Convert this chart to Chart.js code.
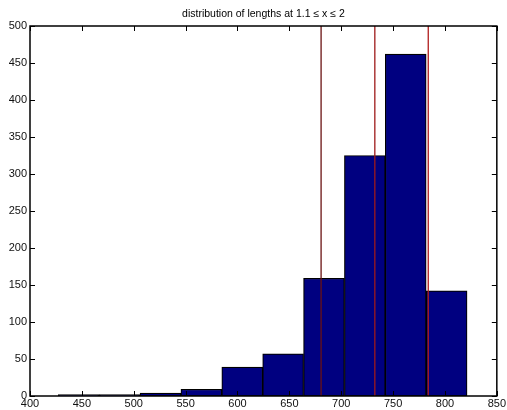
<!DOCTYPE html>
<html>
<head>
<meta charset="utf-8">
<script src="https://cdn.jsdelivr.net/npm/chart.js@4/dist/chart.umd.min.js"></script>
<style>
  html, body { margin: 0; padding: 0; background: #fff; }
</style>
</head>
<body>
<canvas id="hist" width="507" height="410"></canvas>
<script>
// histogram bins (centres, equal width) and counts
const binCenters = [447.0, 486.4, 525.8, 565.2, 604.6, 644.0, 683.4, 722.8, 762.2, 801.6];
const counts = [2, 2, 4, 9, 39, 57, 159, 325, 462, 142];

// vertical marker lines
const markerX = [680.6, 732.4, 783.9];
const markerColors = ['#6a1212', '#9e1a1a', '#b01c1c'];

const xTicks = [400, 450, 500, 550, 600, 650, 700, 750, 800, 850];
const yTicks = [0, 50, 100, 150, 200, 250, 300, 350, 400, 450, 500];
const titleText = 'distribution of lengths at 1.1 \u2264 x \u2264 2';

const FONT = 'Liberation Sans, Arial, Helvetica, sans-serif';

// box around the axes, inward ticks on all four sides, title over the axes
const boxAxes = {
    id: 'boxAxes',
    afterDatasetsDraw(chart) {
        const { ctx, chartArea: a, scales } = chart;
        const len = 5;
        ctx.save();
        ctx.strokeStyle = '#000';
        ctx.lineWidth = 1;
        ctx.beginPath();
        xTicks.forEach(v => {
            const px = Math.round(scales.x.getPixelForValue(v)) + 0.5;
            ctx.moveTo(px, a.bottom); ctx.lineTo(px, a.bottom - len);
            ctx.moveTo(px, a.top); ctx.lineTo(px, a.top + len);
        });
        yTicks.forEach(v => {
            const py = Math.round(scales.y.getPixelForValue(v)) + 0.5;
            ctx.moveTo(a.left, py); ctx.lineTo(a.left + len, py);
            ctx.moveTo(a.right, py); ctx.lineTo(a.right - len, py);
        });
        ctx.stroke();
        ctx.lineWidth = 1.5;
        ctx.strokeRect(a.left, a.top, a.right - a.left, a.bottom - a.top);

        ctx.fillStyle = '#000';
        ctx.font = '10.5px ' + FONT;
        ctx.textAlign = 'center';
        ctx.textBaseline = 'middle';
        ctx.fillText(titleText, (a.left + a.right) / 2, 14);
        ctx.restore();
    }
};

const markerSets = markerX.map((x, i) => ({
    type: 'line',
    data: [{ x: x, y: 0 }, { x: x, y: 500 }],
    borderColor: markerColors[i],
    borderWidth: 1.3,
    pointRadius: 0,
    order: 0
}));

new Chart(document.getElementById('hist'), {
    type: 'bar',
    data: {
        datasets: [{
            data: binCenters.map((c, i) => ({ x: c, y: counts[i] })),
            backgroundColor: '#000080',
            borderColor: '#000',
            borderWidth: 1.2,
            borderSkipped: false,
            barPercentage: 1,
            categoryPercentage: 1,
            grouped: false,
            order: 1
        }, ...markerSets]
    },
    options: {
        responsive: false,
        animation: false,
        devicePixelRatio: 1,
        layout: { padding: { top: 26, right: 9, left: 0, bottom: 0 } },
        plugins: { legend: { display: false }, tooltip: { enabled: false }, title: { display: false } },
        scales: {
            x: {
                type: 'linear', min: 400, max: 850, offset: false,
                grid: { display: false, drawTicks: false, offset: false },
                border: { display: false },
                ticks: { stepSize: 50, padding: 1, color: '#111', font: { size: 11, family: FONT }, maxRotation: 0 },
                afterFit: s => { s.height = 14; }
            },
            y: {
                min: 0, max: 500,
                grid: { display: false, drawTicks: false },
                border: { display: false },
                ticks: { stepSize: 50, padding: 3, color: '#111', font: { size: 11, family: FONT } },
                afterFit: s => { s.width = 30; }
            }
        }
    },
    plugins: [boxAxes]
});
</script>
</body>
</html>
